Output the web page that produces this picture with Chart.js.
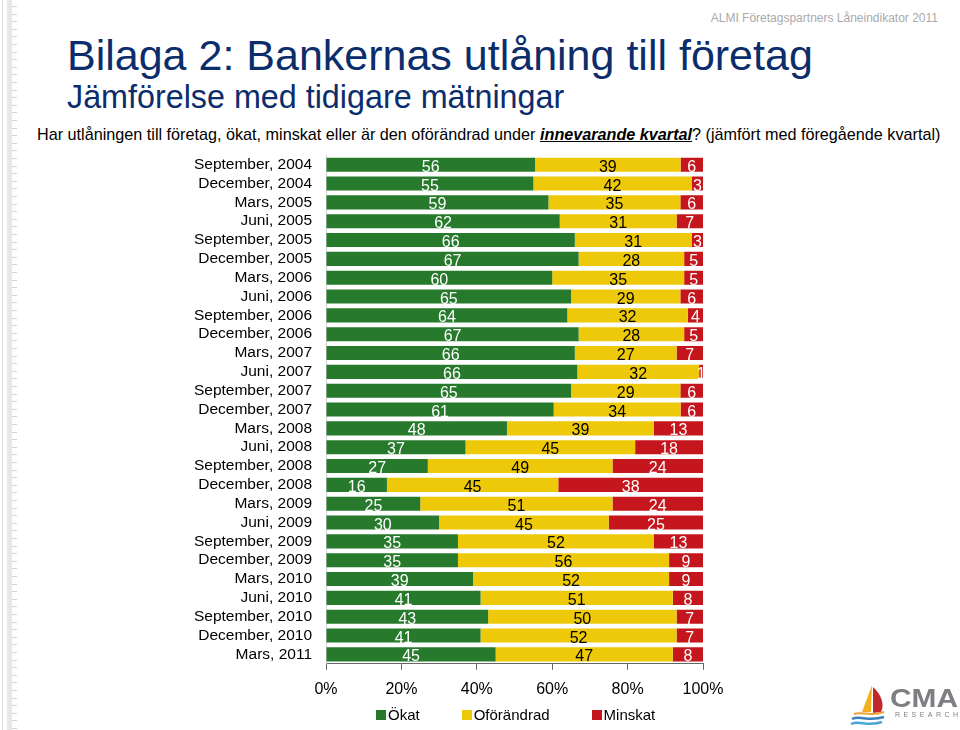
<!DOCTYPE html>
<html>
<head>
<meta charset="utf-8">
<script src="https://cdn.jsdelivr.net/npm/chart.js@4/dist/chart.umd.min.js"></script>
<style>
  html, body { margin: 0; padding: 0; background: #fff; overflow: hidden; }
  body { width: 960px; height: 730px; position: relative; font-family: "Liberation Sans", Arial, sans-serif; }
  .txt { position: absolute; white-space: nowrap; line-height: 1; }
  #header { top: 12px; right: 22px; font-size: 12px; color: #aaa; }
  #title { left: 67px; top: 34px; font-size: 43px; color: #0c2d6b; }
  #subtitle { left: 67px; top: 81px; font-size: 32.3px; color: #0c2d6b; }
  #question { left: 37px; top: 126px; font-size: 16.2px; color: #000; }
  #question b { font-style: italic; text-decoration: underline; }
  #ruler { position: absolute; left: 0; top: 0; width: 20px; height: 730px;
    background:
      linear-gradient(to right, transparent 2px, #ddd 2px, #ddd 3px, transparent 3px, transparent 7px, #e8e8e8 7px, #e8e8e8 12px, transparent 12px),
      repeating-linear-gradient(to bottom, transparent 0, transparent 6px, #d4d4d4 6px, #d4d4d4 7px, transparent 7px, transparent 7.6px);
    background-size: 20px 730px, 6px 730px;
    background-position: 0 0, 11px 0;
    background-repeat: no-repeat, no-repeat; }
  #wrap { position: absolute; left: 0; top: 132px; width: 960px; height: 577px; }
  #legend { position: absolute; left: 376px; top: 707px; display: flex; gap: 42px; font-size: 15px; line-height: 15px; }
  #legend span.item { display: flex; align-items: center; }
  #legend i { display: inline-block; width: 10px; height: 10px; margin-right: 2px; }
  #logo { position: absolute; left: 848px; top: 680px; }
</style>
</head>
<body>
<div id="ruler"></div>
<div class="txt" id="header">ALMI Företagspartners Låneindikator 2011</div>
<div class="txt" id="title">Bilaga 2: Bankernas utlåning till företag</div>
<div class="txt" id="subtitle">Jämförelse med tidigare mätningar</div>
<div class="txt" id="question">Har utlåningen till företag, ökat, minskat eller är den oförändrad under <b>innevarande kvartal</b>? (jämfört med föregående kvartal)</div>
<div id="wrap"><canvas id="myChart"></canvas></div>
<div id="legend"></div>
<svg id="logo" width="112" height="48" viewBox="0 0 112 48">
  <path d="M24 5 L14 32 L23 32 Z" fill="#f2b01e"/>
  <path d="M25 7 C33 14 37 24 33 32 L25 33 Z" fill="#c0282c"/>
  <path d="M6 34 C14 31 22 37 36 32" stroke="#e8a33a" stroke-width="2" fill="none"/>
  <path d="M4 39 C12 35 20 42 36 37" stroke="#3a7fc0" stroke-width="2.5" fill="none"/>
  <path d="M3 44 C11 40 20 47 34 42" stroke="#49a6d8" stroke-width="2.5" fill="none"/>
  <text x="42" y="27" font-family="Liberation Sans, Arial" font-weight="bold" font-size="25" fill="#7d7f82" textLength="68" lengthAdjust="spacingAndGlyphs">CMA</text>
  <text x="47" y="37" font-family="Liberation Sans, Arial" font-size="7" fill="#7d7f82" textLength="63" lengthAdjust="spacing">RESEARCH</text>
</svg>
<script>
const categories = [
  'September, 2004', 'December, 2004', 'Mars, 2005', 'Juni, 2005', 'September, 2005',
  'December, 2005', 'Mars, 2006', 'Juni, 2006', 'September, 2006', 'December, 2006',
  'Mars, 2007', 'Juni, 2007', 'September, 2007', 'December, 2007', 'Mars, 2008',
  'Juni, 2008', 'September, 2008', 'December, 2008', 'Mars, 2009', 'Juni, 2009',
  'September, 2009', 'December, 2009', 'Mars, 2010', 'Juni, 2010', 'September, 2010',
  'December, 2010', 'Mars, 2011'
];
const okat = [56, 55, 59, 62, 66, 67, 60, 65, 64, 67, 66, 66, 65, 61, 48, 37, 27, 16, 25, 30, 35, 35, 39, 41, 43, 41, 45];
const oforandrad = [39, 42, 35, 31, 31, 28, 35, 29, 32, 28, 27, 32, 29, 34, 39, 45, 49, 45, 51, 45, 52, 56, 52, 51, 50, 52, 47];
const minskat = [6, 3, 6, 7, 3, 5, 5, 6, 4, 5, 7, 1, 6, 6, 13, 18, 24, 38, 24, 25, 13, 9, 9, 8, 7, 7, 8];
const xTicks = [0, 20, 40, 60, 80, 100];

// each row is drawn as share of its own total, so every bar ends at 100%
const totals = okat.map((v, i) => v + oforandrad[i] + minskat[i]);
const share = arr => arr.map((v, i) => v / totals[i] * 100);
const rawValues = [okat, oforandrad, minskat];
const labelColors = ['#fff', '#000', '#fff'];
const fontFamily = '"Liberation Sans", Arial, sans-serif';

const valueLabels = {
  id: 'valueLabels',
  afterDatasetsDraw(chart) {
    const ctx = chart.ctx;
    ctx.save();
    ctx.font = '16px ' + fontFamily;
    ctx.textAlign = 'center';
    ctx.textBaseline = 'alphabetic';
    chart.data.datasets.forEach((ds, d) => {
      chart.getDatasetMeta(d).data.forEach((bar, i) => {
        ctx.fillStyle = labelColors[d];
        ctx.fillText(String(rawValues[d][i]), (bar.x + bar.base) / 2, bar.y + 7);
      });
    });
    ctx.restore();
  }
};

const ctx = document.getElementById('myChart').getContext('2d');
const myChart = new Chart(ctx, {
  type: 'bar',
  data: {
    labels: categories,
    datasets: [
      { label: 'Ökat', data: share(okat), backgroundColor: '#277a2c' },
      { label: 'Oförändrad', data: share(oforandrad), backgroundColor: '#eec909' },
      { label: 'Minskat', data: share(minskat), backgroundColor: '#c4161c' }
    ]
  },
  options: {
    indexAxis: 'y',
    responsive: true,
    maintainAspectRatio: false,
    animation: false,
    layout: { padding: { left: 0, right: 257, top: 0, bottom: 0 } },
    datasets: { bar: { barPercentage: 0.75, categoryPercentage: 1 } },
    scales: {
      x: {
        stacked: true,
        min: 0,
        max: 100,
        afterBuildTicks: scale => { scale.ticks = xTicks.map(v => ({ value: v })); },
        ticks: {
          padding: 10,
          color: '#000',
          font: { size: 16, family: fontFamily },
          callback: v => v + '%'
        },
        grid: { drawOnChartArea: false, tickLength: 6, color: '#666' },
        border: { color: '#666' }
      },
      y: {
        stacked: true,
        afterFit: scale => { scale.width = 326; },
        ticks: {
          autoSkip: false,
          padding: 14,
          color: '#000',
          font: { size: 15.5, family: fontFamily }
        },
        grid: { display: false, drawTicks: false },
        border: { display: true, color: '#d0d0d0' }
      }
    },
    plugins: {
      legend: { display: false },
      tooltip: { enabled: false }
    }
  },
  plugins: [valueLabels]
});

// legend built from the chart's datasets
const legendEl = document.getElementById('legend');
myChart.data.datasets.forEach(ds => {
  const item = document.createElement('span');
  item.className = 'item';
  const box = document.createElement('i');
  box.style.background = ds.backgroundColor;
  item.appendChild(box);
  item.appendChild(document.createTextNode(ds.label));
  legendEl.appendChild(item);
});
</script>
</body>
</html>
